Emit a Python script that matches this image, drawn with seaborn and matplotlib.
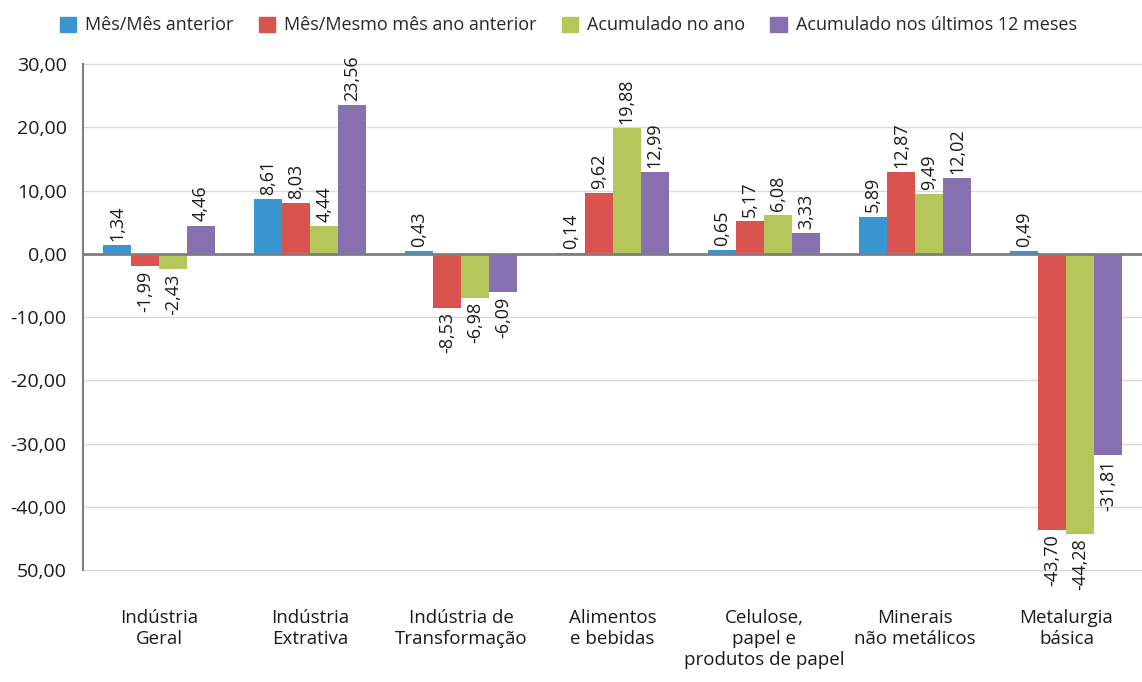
import matplotlib
matplotlib.use('Agg')
import matplotlib.pyplot as plt
import matplotlib.patches as mpatches
import seaborn as sns
import pandas as pd

sns.set_style('white')
plt.rcParams['font.family'] = ['Open Sans', 'DejaVu Sans']

categories = ['Indústria\nGeral', 'Indústria\nExtrativa', 'Indústria de\nTransformação',
              'Alimentos\ne bebidas', 'Celulose,\npapel e\nprodutos de papel',
              'Minerais\nnão metálicos', 'Metalurgia\nbásica']
series = ['Mês/Mês anterior', 'Mês/Mesmo mês ano anterior',
          'Acumulado no ano', 'Acumulado nos últimos 12 meses']
mes_mes = [1.34, 8.61, 0.43, 0.14, 0.65, 5.89, 0.49]
mes_ano = [-1.99, 8.03, -8.53, 9.62, 5.17, 12.87, -43.70]
acum_ano = [-2.43, 4.44, -6.98, 19.88, 6.08, 9.49, -44.28]
acum_12 = [4.46, 23.56, -6.09, 12.99, 3.33, 12.02, -31.81]
yticks = [30, 20, 10, 0, -10, -20, -30, -40, -50]
ytick_labels = ['30,00', '20,00', '10,00', '0,00', '-10,00', '-20,00', '-30,00', '-40,00', '50,00']
colors = ['#3a96d0', '#d9534f', '#b5c75a', '#8670b0']

rows = []
for s, vals in zip(series, [mes_mes, mes_ano, acum_ano, acum_12]):
    for c, v in zip(categories, vals):
        rows.append({'cat': c, 'serie': s, 'valor': v})
df = pd.DataFrame(rows)

fig = plt.figure(figsize=(11.42, 6.82), dpi=100)
ax = fig.add_axes([0.073, 0.164, 0.927, 0.742])

sns.barplot(data=df, x='cat', y='valor', hue='serie', hue_order=series,
            palette=colors, width=0.74, ax=ax, legend=False, saturation=1,
            linewidth=0, edgecolor='none')

for cont in ax.containers:
    for bar in cont:
        v = bar.get_height()
        x = bar.get_x() + bar.get_width() / 2
        lbl = f'{v:.2f}'.replace('.', ',')
        if v >= 0:
            ax.annotate(lbl, (x, v), xytext=(0, 3), textcoords='offset points',
                        rotation=90, ha='center', va='bottom', fontsize=13, color='#1a1a1a')
        else:
            ax.annotate(lbl, (x, v), xytext=(0, -3), textcoords='offset points',
                        rotation=90, ha='center', va='top', fontsize=13, color='#1a1a1a')

ax.set_ylim(-50, 30)
ax.set_xlim(-0.5, 6.5)
ax.set_yticks(yticks)
ax.set_yticklabels(ytick_labels, fontsize=14, color='#1a1a1a')
ax.yaxis.grid(True, color='#d9d9d9', lw=1)
for gl in ax.get_ygridlines():
    gl.set_clip_on(False)
ax.set_axisbelow(True)
ax.axhline(0, color='#7f7f7f', lw=2, zorder=3)
for sp in ['top', 'right', 'bottom']:
    ax.spines[sp].set_visible(False)
ax.spines['left'].set_color('#7f7f7f')
ax.spines['left'].set_linewidth(1.5)
ax.tick_params(axis='y', length=0, pad=12)
ax.tick_params(axis='x', length=0, pad=28, labelsize=13.5, colors='#1a1a1a')
ax.set_xlabel('')
ax.set_ylabel('')

handles = [mpatches.Patch(color=c, label=s) for c, s in zip(colors, series)]
fig.legend(handles=handles, loc='upper left', bbox_to_anchor=(0.038, 1.0), ncol=4,
           frameon=False, fontsize=13, handlelength=0.9, handleheight=0.9,
           handletextpad=0.5, columnspacing=1.4)

plt.savefig('out.png', dpi=100)
plt.close()
